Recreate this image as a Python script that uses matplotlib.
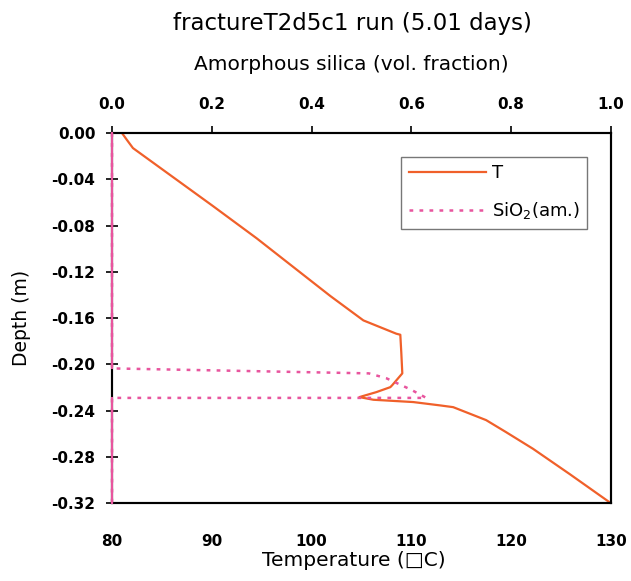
import numpy as np
import matplotlib
matplotlib.use('Agg')
import matplotlib.pyplot as plt

plt.rcParams['font.family'] = ['DejaVu Sans']
plt.rcParams['mathtext.default'] = 'regular'

# Temperature profile (deg C) vs depth (m)
temp = [81.0, 81.5, 82.1, 86.1, 90.1, 94.5, 98.2, 101.9, 105.2, 108.5, 108.9,
        109.0, 109.1, 108.1, 107.9, 106.5, 104.8, 106.2, 110.2, 112.9,
        114.2, 117.5, 119.5, 122.2, 125.9, 130.0]
temp_depth = [0.0, -0.006, -0.013, -0.038, -0.063, -0.091, -0.116, -0.141,
              -0.162, -0.1735, -0.1744, -0.190, -0.2078, -0.2179, -0.2197,
              -0.224, -0.2283, -0.2306, -0.2326, -0.2355, -0.237, -0.2482,
              -0.2586, -0.273, -0.295, -0.32]

# Amorphous silica volume fraction vs depth (m)
silica = [0.0, 0.0, 0.0, 0.515, 0.55, 0.58, 0.60, 0.63, 0.0, 0.0, 0.0]
silica_depth = [0.0, -0.10, -0.2035, -0.2078, -0.212, -0.218, -0.222,
                -0.229, -0.2290, -0.26, -0.32]

depth_ticks = [-0.32, -0.28, -0.24, -0.20, -0.16, -0.12, -0.08, -0.04, 0.0]
temp_ticks = [80, 90, 100, 110, 120, 130]
silica_ticks = [0.0, 0.2, 0.4, 0.6, 0.8, 1.0]

orange = '#f0602a'
pink = '#e8559e'

fig = plt.figure(figsize=(6.31, 5.81), dpi=100)
ax = fig.add_axes([0.1775, 0.134, 0.7905, 0.637])
ax2 = ax.twiny()

ax.plot(temp, temp_depth, color=orange, lw=1.6, label='T')

s = np.array(silica)
sd = np.array(silica_depth)
ax2.plot(s, sd, color=pink, lw=1.8, ls=(0, (1.5, 2.5)), label='SiO$_2$(am.)',
         zorder=4, clip_on=False)
ax2.plot(np.ma.masked_where(s != 0, s), sd, color=pink, lw=1.5,
         zorder=4, clip_on=False)

ax.set_xlim(80, 130)
ax.set_ylim(-0.32, 0.0)
ax2.set_xlim(0, 1)
ax.set_xticks(temp_ticks)
ax.set_yticks(depth_ticks)
ax.set_yticklabels(['%.2f' % v if v != 0 else '0.00' for v in depth_ticks])
ax2.set_xticks(silica_ticks)
ax2.set_xticklabels(['%.1f' % v for v in silica_ticks])

for a in (ax, ax2):
    for sp in a.spines.values():
        sp.set_linewidth(1.5)
        sp.set_color('black')
ax.tick_params(axis='y', direction='inout', length=9, width=1.2,
               labelsize=11, pad=7.5)
ax.tick_params(axis='x', direction='out', length=0, width=1.2,
               labelsize=11, pad=22)
ax2.tick_params(axis='x', direction='out', length=5, width=1.2,
                labelsize=11, pad=10)
for lab in ax.get_xticklabels() + ax.get_yticklabels() + ax2.get_xticklabels():
    lab.set_fontweight('bold')

ax.set_xlabel('Temperature (\u25a1C)', fontsize=14.5, labelpad=3)
ax.xaxis.set_label_coords(0.485, -0.13)
ax.set_ylabel('Depth (m)', fontsize=13.5, labelpad=15)
ax2.set_xlabel('Amorphous silica (vol. fraction)', fontsize=14.5, labelpad=20)
ax2.xaxis.set_label_coords(0.479, 1.17)
fig.text(0.559, 0.959, 'fractureT2d5c1 run (5.01 days)', fontsize=16.5,
         ha='center', va='center')

h1, l1 = ax.get_legend_handles_labels()
h2, l2 = ax2.get_legend_handles_labels()
leg = ax2.legend(h1 + h2, l1 + l2, loc='upper right',
                 bbox_to_anchor=(0.952, 0.935), borderaxespad=0,
                 fontsize=13, frameon=True, fancybox=False, handlelength=4.3,
                 labelspacing=1.0, borderpad=0.4, handletextpad=0.3)
leg.get_frame().set_edgecolor('#555555')
leg.get_frame().set_linewidth(1.0)

fig.savefig('out.png', dpi=100)
